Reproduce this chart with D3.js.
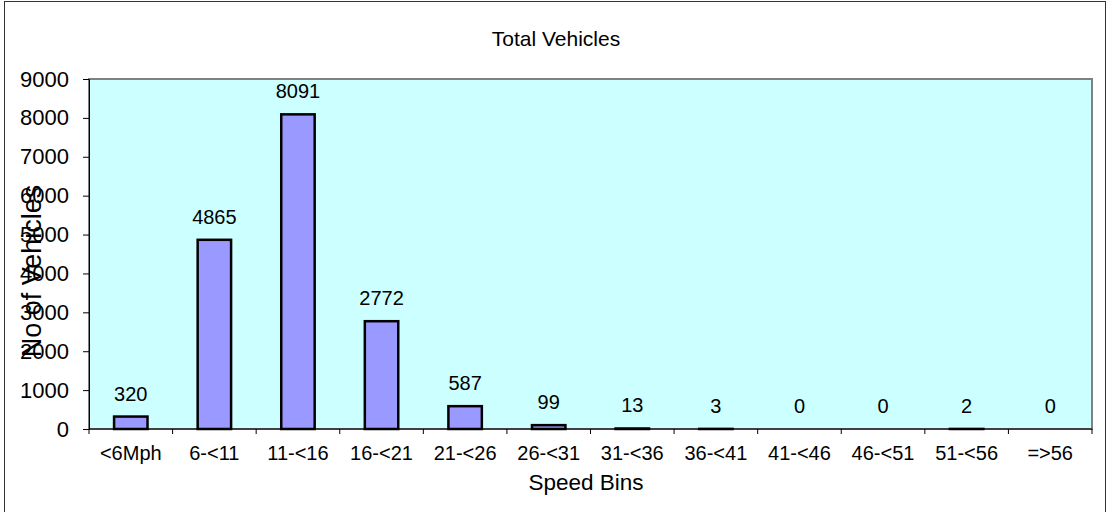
<!doctype html>
<html>
  <head>
    <script src="https://cdnjs.cloudflare.com/ajax/libs/d3/7.8.5/d3.min.js"></script>
  <style>
    body { margin: 0; background: #fff; }
    text { font-family: "Liberation Sans", Arial, sans-serif; fill: #000; }
  </style>
  </head>
  <body>
    <svg id="chart" width="1108" height="512"></svg>
    <script>
      var speedBins = ["<6Mph","6-<11","11-<16","16-<21","21-<26","26-<31","31-<36","36-<41","41-<46","46-<51","51-<56","=>56"];
      var vehicles = [320, 4865, 8091, 2772, 587, 99, 13, 3, 0, 0, 2, 0];
      var yTicks = [0,1000,2000,3000,4000,5000,6000,7000,8000,9000];

      var svg = d3.select("#chart");
      var plotLeft = 89, plotRight = 1092, plotTop = 79, plotBottom = 429;

      // outer frame
      svg.append("rect")
        .attr("x", 4.5).attr("y", 1.5)
        .attr("width", 1101).attr("height", 530)
        .attr("fill", "#fff")
        .attr("stroke", "#333").attr("stroke-width", 1);

      // plot area
      svg.append("rect")
        .attr("x", plotLeft).attr("y", plotTop)
        .attr("width", plotRight - plotLeft).attr("height", plotBottom - plotTop)
        .attr("fill", "#CCFFFF")
        .attr("stroke", "#808080").attr("stroke-width", 2);

      var yScale = d3.scaleLinear().domain([0, 9000]).range([plotBottom, plotTop]);
      var xBar = d3.scaleBand().domain(speedBins).range([plotLeft, plotRight])
        .paddingInner(0.6).paddingOuter(0.3);
      var xCat = d3.scaleBand().domain(speedBins).range([plotLeft, plotRight]).padding(0);

      // y axis
      var yAxis = d3.axisLeft(yScale).tickValues(yTicks).tickSize(6).tickPadding(14)
        .tickFormat(d3.format("d"));
      var yG = svg.append("g").attr("transform", "translate(" + plotLeft + ",0)").call(yAxis);
      yG.select("path.domain").attr("stroke", "#000");
      yG.selectAll("text").style("font-size", "22px").attr("fill", "#000");

      // x axis ticks at category boundaries
      var xG = svg.append("g");
      xG.append("line")
        .attr("x1", plotLeft).attr("x2", plotRight)
        .attr("y1", plotBottom).attr("y2", plotBottom)
        .attr("stroke", "#000");
      xG.selectAll("line.tick")
        .data(speedBins.concat(["end"]))
        .enter()
        .append("line")
          .attr("class", "tick")
          .attr("x1", (d, i) => i < speedBins.length ? xCat(d) : plotRight)
          .attr("x2", (d, i) => i < speedBins.length ? xCat(d) : plotRight)
          .attr("y1", plotBottom).attr("y2", plotBottom + 5)
          .attr("stroke", "#000");
      xG.selectAll("text")
        .data(speedBins)
        .enter()
        .append("text")
          .attr("x", d => xCat(d) + xCat.bandwidth() / 2)
          .attr("y", 460)
          .attr("text-anchor", "middle")
          .style("font-size", "20px")
          .text(d => d);

      // bars
      var data = speedBins.map((b, i) => ({bin: b, value: vehicles[i]}));
      svg.selectAll("rect.bar")
        .data(data.filter(d => d.value > 0))
        .enter()
        .append("rect")
          .attr("class", "bar")
          .attr("x", d => xBar(d.bin))
          .attr("y", d => yScale(d.value))
          .attr("width", xBar.bandwidth())
          .attr("height", d => plotBottom - yScale(d.value))
          .attr("fill", "#9999FF")
          .attr("stroke", "#000")
          .attr("stroke-width", 2.5);

      svg.selectAll("text.label")
        .data(data)
        .enter()
        .append("text")
          .attr("class", "label")
          .attr("x", d => xBar(d.bin) + xBar.bandwidth() / 2)
          .attr("y", d => yScale(d.value) - 16)
          .attr("text-anchor", "middle")
          .style("font-size", "20px")
          .text(d => d.value);

      // titles
      svg.append("text")
        .attr("x", 556).attr("y", 46)
        .attr("text-anchor", "middle")
        .style("font-size", "21px")
        .text("Total Vehicles");

      svg.append("text")
        .attr("x", 586).attr("y", 490)
        .attr("text-anchor", "middle")
        .style("font-size", "22.5px")
        .text("Speed Bins");

      svg.append("text")
        .attr("transform", "translate(41,271) rotate(-90)")
        .attr("text-anchor", "middle")
        .style("font-size", "27px")
        .text("No of Vehicles");
    </script>
  </body>
</html>
